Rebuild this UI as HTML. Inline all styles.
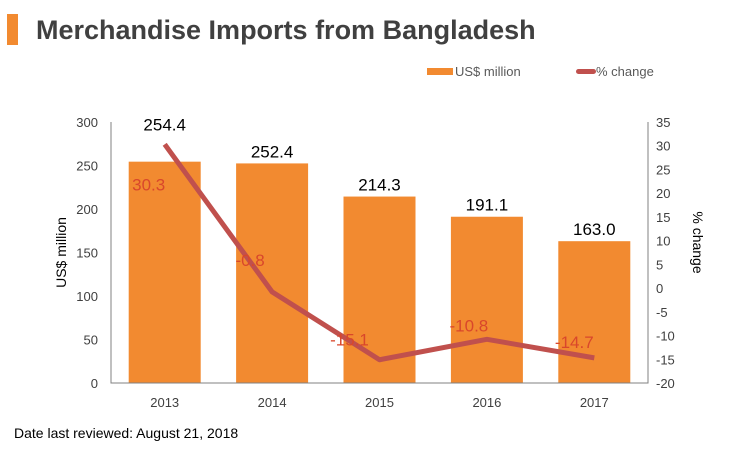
<!DOCTYPE html>
<html><head><meta charset="utf-8"><style>
body{margin:0;background:#fff;width:750px;height:451px;overflow:hidden;font-family:"Liberation Sans",sans-serif}
</style></head><body>
<svg width="750" height="451" font-family="Liberation Sans, sans-serif">
<rect x="7" y="14" width="11" height="31" fill="#f28a30"/>
<text x="36" y="39" font-size="27" font-weight="bold" fill="#404040">Merchandise Imports from Bangladesh</text>
<rect x="427" y="68" width="26" height="7" fill="#f28a30"/>
<text x="455" y="76" font-size="13" fill="#595959">US$ million</text>
<rect x="576" y="69" width="20" height="5" rx="2.5" fill="#c0504d"/>
<text x="596" y="76" font-size="13" fill="#595959">% change</text>
<g id="plot"></g>
<text x="14" y="438" font-size="14" fill="#000">Date last reviewed: August 21, 2018</text>
</svg>
<script>
const categories=["2013","2014","2015","2016","2017"];
const values=[254.4,252.4,214.3,191.1,163.0];
const pct=[30.3,-0.8,-15.1,-10.8,-14.7];
const leftTicks=[0,50,100,150,200,250,300];
const rightTicks=[-20,-15,-10,-5,0,5,10,15,20,25,30,35];
const X0=111,X1=648,YT=122,YB=383;
const bw=(X1-X0)/categories.length;
const yL=v=>YB-(v-0)/(300-0)*(YB-YT);
const yR=v=>YB-(v+20)/(55)*(YB-YT);
const xc=i=>X0+bw*(i+0.5);
const g=document.getElementById('plot');
const NS="http://www.w3.org/2000/svg";
function mk(t,a,txt){const e=document.createElementNS(NS,t);for(const k in a)e.setAttribute(k,a[k]);if(txt!=null)e.textContent=txt;g.appendChild(e);return e;}
values.forEach((v,i)=>{
 const r=mk('rect',{x:xc(i)-36,y:yL(v),width:72,height:YB-yL(v),fill:'#f28a30'});
 
 
 const ly=i===0?yL(v)-31:yL(v)-6;
 const t=mk('text',{x:xc(i),y:ly,'font-size':17,'text-anchor':'middle',fill:'#000'},v.toFixed(1));
 
 
 const c=mk('text',{x:xc(i),y:YB+24,'font-size':13,'text-anchor':'middle',fill:'#404040'},categories[i]);
 
 
});
const ax=mk('path',{d:`M${X0} ${YT}V${YB}H${X1}V${YT}`,stroke:'#808080',fill:'none','stroke-width':1});


leftTicks.forEach(v=>{const t=mk('text',{x:X0-13,y:yL(v)+5,'font-size':13,'text-anchor':'end',fill:'#404040'},v);
 
 });
rightTicks.forEach(v=>{const t=mk('text',{x:X1+8,y:yR(v)+5,'font-size':13,fill:'#404040'},v);
 
 });
const lt=mk('text',{x:0,y:0,'font-size':14,'text-anchor':'middle',fill:'#000',transform:`translate(66 ${(YT+YB)/2}) rotate(-90)`},'US$ million');


const rt=mk('text',{x:0,y:0,'font-size':14,'text-anchor':'middle',fill:'#000',transform:`translate(693 ${(YT+YB)/2-10}) rotate(90)`},'% change');


const line=mk('polyline',{points:pct.map((p,i)=>xc(i)+','+yR(p)).join(' '),fill:'none',stroke:'#c0504d','stroke-width':5,'stroke-linejoin':'round'});


const off=[[-16,46],[-22,-26],[-30,-14],[-18,-8],[-20,-10]];
pct.forEach((p,i)=>{const t=mk('text',{x:xc(i)+off[i][0],y:yR(p)+off[i][1],'font-size':17,'text-anchor':'middle',fill:'#d9472b'},p.toFixed(1));
 
 });
</script>
</body></html>
